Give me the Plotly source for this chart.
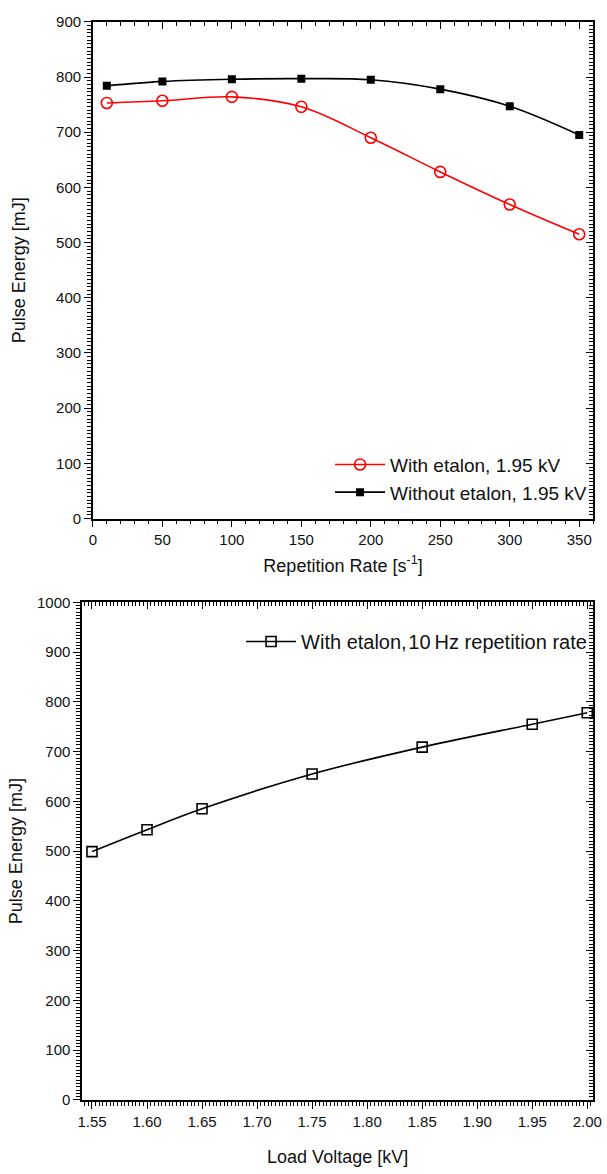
import plotly.graph_objects as go

# ---- data ----
rep_rate = [10, 50, 100, 150, 200, 250, 300, 350]
with_etalon = [753, 757, 764, 746, 690, 628, 569, 515]
without_etalon = [784, 792, 796, 797, 795, 778, 747, 695]

load_voltage = [1.55, 1.60, 1.65, 1.75, 1.85, 1.95, 2.00]
energy_10hz = [499, 543, 585, 655, 709, 755, 778]

W, H = 607, 1174
FONT = "Liberation Sans, Arial, sans-serif"

def px_x(a, b):
    return [a / W, b / W]

def px_y(top, bottom):
    return [1 - bottom / H, 1 - top / H]

fig = go.Figure()

fig.add_trace(go.Scatter(
    x=rep_rate, y=with_etalon, name="With etalon, 1.95 kV",
    mode="lines+markers", line=dict(color="#ff0000", width=1.6, shape="spline"),
    marker=dict(symbol="circle-open", size=11, color="#ff0000", line=dict(width=1.6)),
    xaxis="x", yaxis="y", legend="legend"))
fig.add_trace(go.Scatter(
    x=rep_rate, y=without_etalon, name="Without etalon, 1.95 kV",
    mode="lines+markers", line=dict(color="#000000", width=1.6, shape="spline"),
    marker=dict(symbol="square", size=8, color="#000000"),
    xaxis="x", yaxis="y", legend="legend"))
fig.add_trace(go.Scatter(
    x=load_voltage, y=energy_10hz, name="With etalon,\u200a10\u2009Hz repetition rate",
    mode="lines+markers", line=dict(color="#000000", width=1.6, shape="spline"),
    marker=dict(symbol="square-open", size=10, color="#000000", line=dict(width=1.6)),
    xaxis="x2", yaxis="y2", legend="legend2"))

tickfont = dict(family=FONT, size=15, color="#111")
titlefont = dict(family=FONT, size=18, color="#111")

def mn(dt, side):
    return dict(dtick=dt, ticks=side, ticklen=4, tickcolor="#000", tickwidth=1, showgrid=False)

def base_axis(**kw):
    d = dict(showline=True, linecolor="#000", linewidth=1.6, showgrid=False,
             zeroline=False, ticks="outside", ticklen=7, tickwidth=1.4, tickcolor="#000",
             tickfont=tickfont, ticklabeloverflow="allow")
    d.update(kw)
    return d

top_xd = px_x(90, 602)
top_yd = px_y(13, 517)
bot_xd = px_x(79, 602)
bot_yd = px_y(602, 1107)

xr1 = [0, 360]
yr1 = [0, 900]
xr2 = [1.5411, 2.0053]
yr2 = [0, 1000]

fig.update_layout(
    width=W, height=H, margin=dict(l=0, r=0, t=0, b=0),
    paper_bgcolor="white", plot_bgcolor="white",
    showlegend=True,
    xaxis=base_axis(domain=top_xd, range=xr1, anchor="y", dtick=50, tick0=0,
                    minor=mn(10, "outside"),
                    title=dict(text="Repetition Rate [s<sup>-1</sup>]", font=titlefont, standoff=12)),
    yaxis=base_axis(domain=top_yd, range=yr1, anchor="x", dtick=100, tick0=0,
                    minor=mn(100 / 15, "outside"),
                    title=dict(text="Pulse Energy [mJ]", font=titlefont, standoff=26)),
    xaxis3=base_axis(domain=top_xd, range=xr1, overlaying="x", side="top", anchor="y",
                     ticks="inside", showticklabels=False, dtick=50, tick0=0,
                     minor=mn(10, "inside")),
    yaxis3=base_axis(domain=top_yd, range=yr1, overlaying="y", side="right", anchor="x",
                     ticks="inside", showticklabels=False, dtick=100, tick0=0,
                     minor=mn(100 / 15, "inside")),
    xaxis2=base_axis(domain=bot_xd, range=xr2, anchor="y2", dtick=0.05, tick0=1.55,
                     tickformat=".2f", minor=mn(0.05 / 15, "outside"),
                     title=dict(text="Load Voltage [kV]", font=titlefont, standoff=22)),
    yaxis2=base_axis(domain=bot_yd, range=yr2, anchor="x2", dtick=100, tick0=0,
                     minor=mn(100 / 15, "outside"),
                     title=dict(text="Pulse Energy [mJ]", font=titlefont, standoff=10)),
    xaxis4=base_axis(domain=bot_xd, range=xr2, overlaying="x2", side="top", anchor="y2",
                     ticks="inside", showticklabels=False, dtick=0.05, tick0=1.55,
                     minor=mn(0.05 / 15, "inside")),
    yaxis4=base_axis(domain=bot_yd, range=yr2, overlaying="y2", side="right", anchor="x2",
                     ticks="inside", showticklabels=False, dtick=100, tick0=0,
                     minor=mn(100 / 15, "inside")),
    legend=dict(x=0.99, y=1 - 443 / H, xanchor="right", yanchor="top",
                xref="paper", yref="paper", bgcolor="rgba(0,0,0,0)",
                font=dict(family=FONT, size=19, color="#111"), itemwidth=50,
                tracegroupgap=0),
    legend2=dict(x=0.99, y=1 - 622 / H, xanchor="right", yanchor="top",
                 xref="paper", yref="paper", bgcolor="rgba(0,0,0,0)",
                 font=dict(family=FONT, size=20, color="#111"), itemwidth=50),
)

# invisible helper traces so overlay axes are drawn
fig.add_trace(go.Scatter(x=[None], y=[None], xaxis="x3", yaxis="y3", showlegend=False, hoverinfo="skip"))
fig.add_trace(go.Scatter(x=[None], y=[None], xaxis="x4", yaxis="y4", showlegend=False, hoverinfo="skip"))

fig.write_html("out.html")
